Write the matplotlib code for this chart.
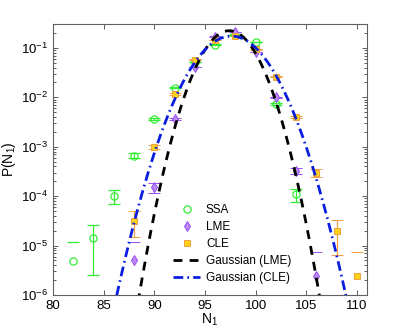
import numpy as np
import matplotlib
matplotlib.use("Agg")
import matplotlib.pyplot as plt

plt.rcParams['font.family'] = ['Liberation Sans', 'DejaVu Sans']
plt.rcParams['mathtext.fontset'] = 'custom'
plt.rcParams['mathtext.rm'] = 'Liberation Sans'
plt.rcParams['mathtext.it'] = 'Liberation Sans:italic'

# SSA data
ssa_n = [82, 84, 86, 88, 90, 92, 94, 96, 98, 100, 102, 104]
ssa_p = [4.9e-6, 1.45e-5, 1.03e-4, 6.6e-4, 3.7e-3, 1.55e-2, 5.2e-2, 0.117, 0.186, 0.131, 7.3e-3, 1.1e-4]
ssa_err = [7.1e-6, 1.2e-5, 3.2e-5, 8.0e-5, 2.0e-4, 4.0e-4, 7.0e-4, 1.1e-3, 1.4e-3, 1.2e-3, 2.7e-4, 3.3e-5]

# LME data
lme_n = [88, 90, 92, 94, 96, 98, 100, 102, 104, 106]
lme_p = [5.0e-6, 1.5e-4, 3.7e-3, 4.1e-2, 0.169, 0.209, 8.3e-2, 1.0e-2, 3.3e-4, 2.4e-6]
lme_err = [7.0e-6, 3.5e-5, 1.8e-4, 6.0e-4, 1.2e-3, 1.3e-3, 8.5e-4, 3.0e-4, 5.0e-5, 5.0e-6]

# CLE data
cle_n = [88, 90, 92, 94, 96, 98, 100, 102, 104, 106, 108, 110]
cle_p = [3.2e-5, 1.0e-3, 1.17e-2, 5.8e-2, 0.145, 0.174, 9.3e-2, 2.6e-2, 4.0e-3, 3.0e-4, 2.0e-5, 2.4e-6]
cle_err = [1.7e-5, 9.0e-5, 3.2e-4, 7.0e-4, 1.1e-3, 1.2e-3, 9.0e-4, 4.8e-4, 1.9e-4, 5.0e-5, 1.35e-5, 5.0e-6]

# Gaussian fits (mean, std)
lme_mu, lme_sigma = 97.4, 1.79
cle_mu, cle_sigma = 97.6, 2.30

ssa_col = '#33ee33'
lme_edge, lme_face = '#9a4df0', '#b98af5'
cle_edge, cle_face = '#f0a040', '#ffd21a'

fig = plt.figure(figsize=(4.07, 3.33), dpi=100)
ax = fig.add_axes([0.13, 0.114, 0.772, 0.813])
ax.set_yscale('log', nonpositive='mask')

e1 = ax.errorbar(ssa_n, ssa_p, yerr=ssa_err, fmt='o', ms=5.2, mfc='none', mec=ssa_col,
                 mew=0.9, ecolor=ssa_col, elinewidth=0.9, capsize=4, capthick=0.9, zorder=3)
e2 = ax.errorbar(lme_n, lme_p, yerr=lme_err, fmt='d', ms=5.2, mfc=lme_face, mec=lme_edge,
                 mew=0.7, ecolor=lme_edge, elinewidth=0.9, capsize=4, capthick=0.9, zorder=3)
e3 = ax.errorbar(cle_n, cle_p, yerr=cle_err, fmt='s', ms=4.3, mfc=cle_face, mec=cle_edge,
                 mew=0.7, ecolor=cle_edge, elinewidth=0.9, capsize=4, capthick=0.9, zorder=3)

xg = np.linspace(80, 111, 600)
g_lme = np.exp(-(xg - lme_mu) ** 2 / (2 * lme_sigma ** 2)) / (np.sqrt(2 * np.pi) * lme_sigma)
g_cle = np.exp(-(xg - cle_mu) ** 2 / (2 * cle_sigma ** 2)) / (np.sqrt(2 * np.pi) * cle_sigma)
l1, = ax.plot(xg, g_lme, color='black', ls=(0, (3.2, 2.6)), lw=2.0, zorder=4)
l2, = ax.plot(xg, g_cle, color='#0b1ee0', ls=(0, (3.5, 1.5, 0.6, 1.5)), lw=2.0, zorder=4)

ax.set_xlim(80, 111)
ax.set_ylim(1e-6, 0.3)
ax.set_xticks([80, 85, 90, 95, 100, 105, 110])
ax.tick_params(which='both', direction='in', top=True, right=True, labelsize=9.5,
               color='#404040', length=3.5, width=0.6)
ax.tick_params(which='minor', length=2)
for s in ax.spines.values():
    s.set_color('#606060')
    s.set_linewidth(0.8)

ax.set_xlabel('N$_1$', fontsize=10, labelpad=0)
ax.set_ylabel('P(N$_1$)', fontsize=10, labelpad=2)

ax.legend([e1[0], e2[0], e3[0], l1, l2],
          ['SSA', 'LME', 'CLE', 'Gaussian (LME)', 'Gaussian (CLE)'],
          loc='upper left', bbox_to_anchor=(0.382, 0.335), frameon=False,
          fontsize=8.5, labelspacing=0.42, handlelength=2.3, handletextpad=0.5,
          borderaxespad=0, borderpad=0)

fig.savefig('out.png', dpi=100)
